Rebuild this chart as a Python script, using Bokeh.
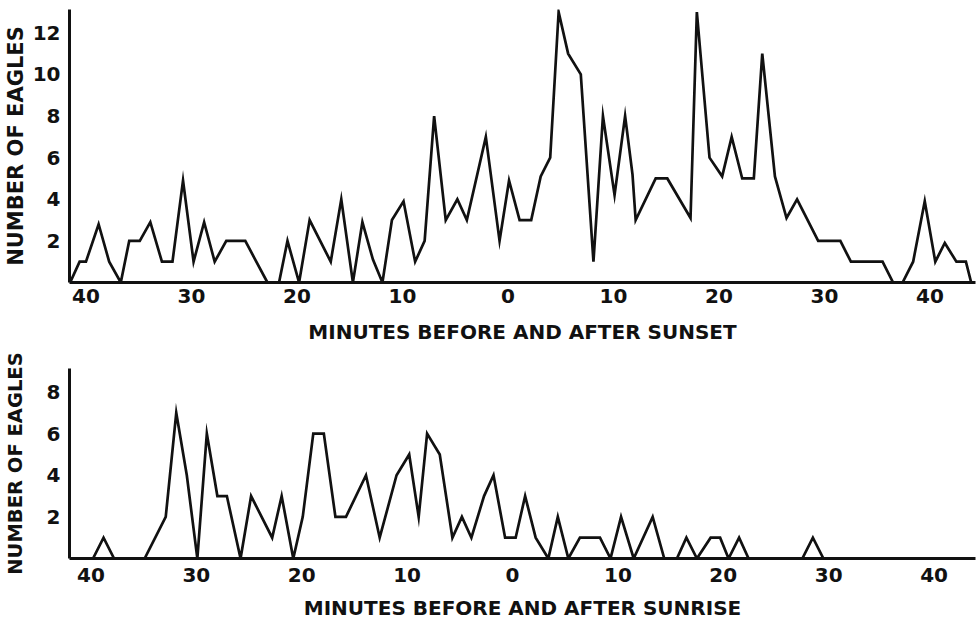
from bokeh.plotting import figure
from bokeh.layouts import column
from bokeh.models import FixedTicker, Range1d
from bokeh.embed import file_html
from bokeh.resources import INLINE

# ---- data ----
sunset_minutes = [-41.5, -40.6, -40.0, -38.8, -37.8, -36.7, -35.9, -34.9, -33.9, -32.8,
                  -31.8, -30.8, -29.8, -28.8, -27.8, -26.7, -25.9, -24.9, -22.8, -21.7,
                  -20.9, -19.8, -18.8, -16.8, -15.8, -14.7, -13.8, -12.8, -11.9, -11.0,
                  -9.9, -8.8, -7.9, -7.0, -5.9, -4.8, -3.9, -2.1, -0.8, 0.1,
                  1.1, 2.2, 3.1, 4.0, 4.8, 5.7, 6.9, 8.1, 9.0, 10.1,
                  11.1, 11.8, 12.1, 14.0, 15.1, 17.3, 17.9, 19.1, 20.3, 21.2,
                  22.2, 23.3, 24.1, 25.3, 26.4, 27.4, 29.4, 31.5, 32.5, 35.5,
                  36.5, 37.4, 38.4, 39.5, 40.5, 41.4, 42.5, 43.4, 43.9]
sunset_eagles = [0, 1, 1, 2.8, 1, 0, 2, 2, 2.9, 1,
                 1, 4.9, 1, 2.9, 1, 2, 2, 2, 0, 0,
                 2, 0, 3, 1, 4, 0, 2.9, 1.1, 0, 3,
                 3.9, 1, 2, 8, 3, 4, 3, 7, 2, 4.9,
                 3, 3, 5.1, 6, 13, 11, 10, 1, 8, 4.2,
                 8, 5.2, 3, 5, 5, 3.1, 13, 6, 5.1, 7,
                 5, 5, 11, 5.1, 3.1, 4, 2, 2, 1, 1,
                 0, 0, 1, 3.9, 1, 1.9, 1, 1, 0]

sunrise_minutes = [-42.0, -39.8, -38.8, -37.8, -34.9, -32.9, -31.9, -30.9, -29.9, -29.0,
                   -28.0, -27.1, -25.8, -24.8, -22.8, -21.9, -20.8, -19.9, -18.9, -17.9,
                   -16.8, -15.8, -13.9, -12.6, -11.0, -9.8, -8.9, -8.1, -6.9, -5.7,
                   -4.8, -3.9, -2.7, -1.8, -0.7, 0.3, 1.2, 2.2, 3.4, 4.3,
                   5.3, 6.4, 8.3, 9.3, 10.3, 11.5, 13.3, 14.4, 15.6, 16.5,
                   17.5, 18.8, 19.7, 20.5, 21.5, 22.4, 27.5, 28.5, 29.5, 43.5]
sunrise_eagles = [0, 0, 1, 0, 0, 2, 7, 4, 0, 6,
                  3, 3, 0, 3, 1, 3, 0, 2, 6, 6,
                  2, 2, 4, 1, 4, 5, 2, 6, 5, 1,
                  2, 1, 3, 4, 1, 1, 3, 1, 0, 2,
                  0, 1, 1, 0, 2, 0, 2, 0, 0, 1,
                  0, 1, 1, 0, 1, 0, 0, 1, 0, 0]

x_ticks = [-40, -30, -20, -10, 0, 10, 20, 30, 40]
x_tick_labels = ["40", "30", "20", "10", "0", "10", "20", "30", "40"]
sunset_y_ticks = [2, 4, 6, 8, 10, 12]
sunrise_y_ticks = [2, 4, 6, 8]

FONT = "DejaVu Sans"
INK = "#111111"


def style(p, yticks, xlabel, ylabel_standoff, xlabel_standoff, tick_standoff, ylabel_size):
    p.grid.visible = False
    p.outline_line_color = None
    p.background_fill_color = "white"
    p.border_fill_color = "white"
    for ax in (p.xaxis[0], p.yaxis[0]):
        ax.axis_line_width = 3
        ax.axis_line_color = INK
        ax.major_tick_line_color = None
        ax.minor_tick_line_color = None
        ax.major_tick_out = 0
        ax.major_tick_in = 0
        ax.major_label_text_font = FONT
        ax.major_label_text_font_style = "bold"
        ax.major_label_text_font_size = "20px"
        ax.major_label_text_color = INK
        ax.axis_label_text_font = FONT
        ax.axis_label_text_font_style = "bold"
        ax.axis_label_text_color = INK
    p.xaxis.axis_label_text_font_size = "20px"
    p.yaxis.axis_label_text_font_size = ylabel_size
    p.xaxis.ticker = FixedTicker(ticks=x_ticks)
    p.xaxis.major_label_overrides = {t: s for t, s in zip(x_ticks, x_tick_labels)}
    p.yaxis.ticker = FixedTicker(ticks=yticks)
    p.xaxis.axis_label = xlabel
    p.yaxis.axis_label = "NUMBER OF EAGLES"
    p.yaxis.major_label_standoff = 9
    p.xaxis.major_label_standoff = tick_standoff
    p.yaxis.axis_label_standoff = ylabel_standoff
    p.xaxis.axis_label_standoff = xlabel_standoff


top = figure(width=979, height=346, output_backend="svg", toolbar_location=None,
             x_range=Range1d(-41.56, 44.31), y_range=Range1d(0, 13.12),
             min_border_left=69, min_border_right=4, min_border_top=9, min_border_bottom=64)
style(top, sunset_y_ticks, "MINUTES BEFORE AND AFTER SUNSET", 2, 14, 6, "21px")
top.line(sunset_minutes, sunset_eagles, line_color=INK, line_width=2.7, line_join="miter")

bottom = figure(width=979, height=276, output_backend="svg", toolbar_location=None,
                x_range=Range1d(-42.03, 43.93), y_range=Range1d(0, 9.13),
                min_border_left=69, min_border_right=4, min_border_top=22, min_border_bottom=64)
style(bottom, sunrise_y_ticks, "MINUTES BEFORE AND AFTER SUNRISE", 17, 11, 9, "19.5px")
bottom.line(sunrise_minutes, sunrise_eagles, line_color=INK, line_width=2.7, line_join="miter")

layout = column(top, bottom, spacing=0)
open("out.html", "w").write(file_html(layout, INLINE))
